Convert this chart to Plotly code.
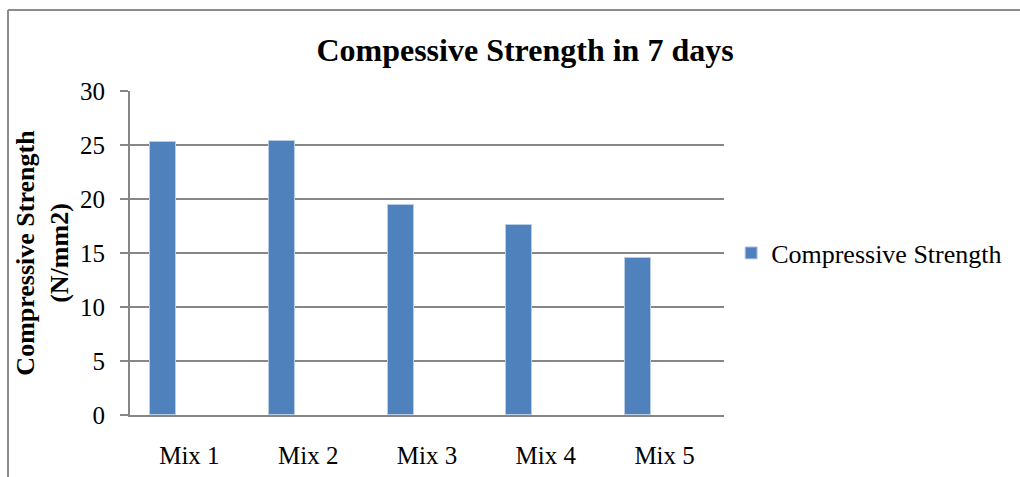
import plotly.graph_objects as go

# Compressive strength after 7 days of curing
mixes = ["Mix 1", "Mix 2", "Mix 3", "Mix 4", "Mix 5"]
strength = [25.3, 25.4, 19.4, 17.6, 14.5]
y_ticks = [0, 5, 10, 15, 20, 25, 30]

SERIF = "Liberation Serif, Times New Roman, serif"
GRID = "#868686"

fig = go.Figure()
fig.add_trace(go.Bar(
    x=mixes,
    y=strength,
    name="Compressive Strength",
    marker=dict(color="#4F81BD", line=dict(color="#B9CDE5", width=1)),
    width=0.22,
    offset=-0.332,
))

# chart frame (top and left edges of the chart border)
fig.add_shape(type="line", xref="paper", yref="paper",
              x0=-0.2054, y0=1.25, x1=1.6, y1=1.25,
              line=dict(color="#8C8C8C", width=2))
fig.add_shape(type="line", xref="paper", yref="paper",
              x0=-0.2054, y0=1.25, x1=-0.2054, y1=-0.3,
              line=dict(color="#8C8C8C", width=2))

fig.update_layout(
    width=1020, height=477,
    margin=dict(l=130, r=296, t=91, b=62, autoexpand=False),
    paper_bgcolor="white", plot_bgcolor="white",
    font=dict(family=SERIF, color="black", size=25),
    title=dict(text="<b>Compessive Strength in 7 days</b>",
               x=0.665, xref="paper", xanchor="center",
               y=0.895, yanchor="middle",
               font=dict(family=SERIF, size=32, color="black")),
    showlegend=True,
    legend=dict(x=1.012, xanchor="left", y=0.5, yanchor="middle",
                font=dict(family=SERIF, size=26, color="black"),
                itemwidth=30, bgcolor="rgba(0,0,0,0)"),
    bargap=0,
)
fig.update_xaxes(
    automargin=False,
    showgrid=False, showline=True, linecolor=GRID, linewidth=2,
    ticks="", tickfont=dict(family=SERIF, size=25, color="black"),
    ticklabelstandoff=17,
)
fig.update_yaxes(
    automargin=False,
    range=[0, 30], tickvals=y_ticks, showgrid=True, gridcolor=GRID, gridwidth=2,
    showline=True, linecolor=GRID, linewidth=2, zeroline=False,
    ticks="outside", ticklen=8, tickcolor=GRID, tickwidth=2,
    tickfont=dict(family=SERIF, size=25, color="black"),
    ticklabelstandoff=10,
    title=dict(text="<b>Compressive Strength<br>(N/mm2)</b>",
               font=dict(family=SERIF, size=26, color="black"), standoff=4),
)

fig.write_html("out.html")
